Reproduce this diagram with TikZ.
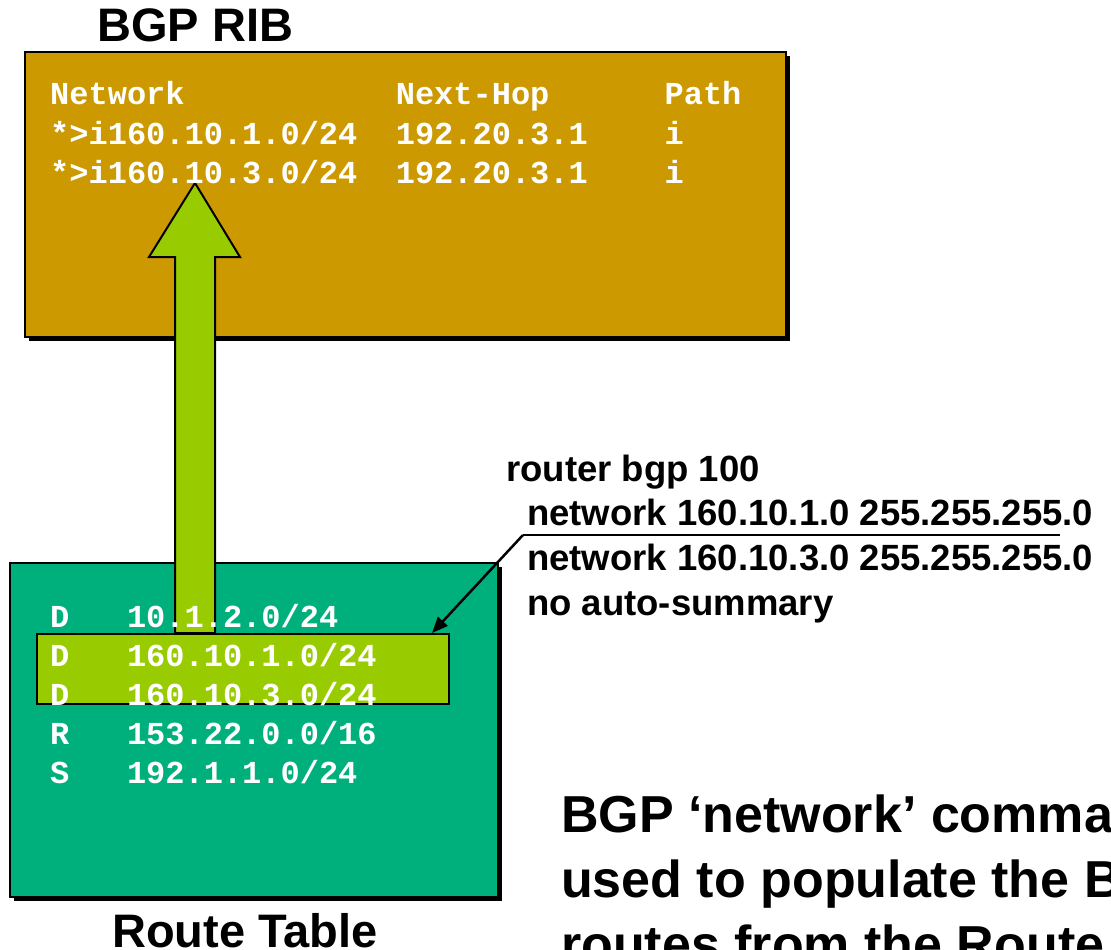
\documentclass[tikz,border=0pt]{standalone}
\usepackage{fontspec}
\setmainfont{Liberation Sans}
\newfontfamily\monofont{Liberation Mono}
\usepackage{tikz}
\definecolor{ribgold}{RGB}{204, 153, 0}
\definecolor{tablegreen}{RGB}{0, 176, 124}
\definecolor{lime}{RGB}{153, 204, 0}
\usetikzlibrary{positioning}
\usetikzlibrary{shadows}
\usetikzlibrary{arrows.meta}
\tikzset{
  panel/.style={rectangle, anchor=north west, line width=2pt, draw=black,
    drop shadow={shadow xshift=4pt, shadow yshift=-4pt, fill=black, opacity=1}},
  rowtext/.style={anchor=base west, inner sep=0pt, text=white, font=\monofont\bfseries\fontsize{32}{38}\selectfont},
  cfgtext/.style={anchor=base west, inner sep=0pt, font=\bfseries\fontsize{36.5}{44}\selectfont},
  headtext/.style={anchor=base west, inner sep=0pt, font=\bfseries\fontsize{47}{56}\selectfont},
  notetext/.style={anchor=base west, inner sep=0pt, font=\bfseries\fontsize{52}{62}\selectfont}
}

\begin{document}
\begin{tikzpicture}[x=1pt, y=-1pt]
\useasboundingbox (0,0) rectangle (1111,950);
\clip (0,0) rectangle (1111,950);
% BGP table
\node (ribhead) [headtext] at (97,42) {BGP RIB};
\node (rib) [panel, fill=ribgold, minimum width=761pt, minimum height=285pt] at (24,51) {};
% route table
\node (rt) [panel, fill=tablegreen, minimum width=488pt, minimum height=334pt] at (9,562) {};
\node (hl) [rectangle, anchor=north west, line width=2pt, draw=black, fill=lime, minimum width=412pt, minimum height=70pt] at (36,633) {};
\node (rthead) [headtext] at (112,947) {Route Table};
% big arrow
\coordinate (tail) at (195,633);
\coordinate (tip) at (195,183);
\draw [line width=2pt, fill=lime, line join=miter] (tail) ++(-20,0) -- (175,257) -- (149,257) -- (tip) -- (240,257) -- (215,257) -- ++(0,376) -- cycle;
% rows of the BGP table
\node (h1) [rowtext] at (50,104) {Network};
\node (h2) [rowtext] at (395.6,104) {Next-Hop};
\node (h3) [rowtext] at (664.4,104) {Path};
\node (n1) [rowtext] at (50,144) {*>i160.10.1.0/24};
\node (n2) [rowtext] at (395.6,144) {192.20.3.1};
\node (n3) [rowtext] at (664.4,144) {i};
\node (m1) [rowtext] at (50,183) {*>i160.10.3.0/24};
\node (m2) [rowtext] at (395.6,183) {192.20.3.1};
\node (m3) [rowtext] at (664.4,183) {i};
% rows of the route table
\node (r1a) [rowtext] at (50,627) {D};
\node (r1b) [rowtext] at (126.8,627) {10.1.2.0/24};
\node (r2a) [rowtext] at (50,666) {D};
\node (r2b) [rowtext] at (126.8,666) {160.10.1.0/24};
\node (r3a) [rowtext] at (50,705) {D};
\node (r3b) [rowtext] at (126.8,705) {160.10.3.0/24};
\node (r4a) [rowtext] at (50,744) {R};
\node (r4b) [rowtext] at (126.8,744) {153.22.0.0/16};
\node (r5a) [rowtext] at (50,783) {S};
\node (r5b) [rowtext] at (126.8,783) {192.1.1.0/24};
% config
\node (c1) [cfgtext] at (506,481) {router bgp 100};
\node (c2) [cfgtext] at (527,525) {network 160.10.1.0 255.255.255.0};
\node (c3) [cfgtext] at (527,570) {network 160.10.3.0 255.255.255.0};
\node (c4) [cfgtext] at (527,615) {no auto-summary};
\coordinate (ul) at (523,535);
\coordinate (ulend) at (1060,535);
\coordinate (hit) at (432,633);
\draw [line width=2pt] (ul) -- (ulend);
\draw [line width=2.5pt, -{Triangle[length=16pt, width=13pt]}] (ul) -- (hit);
% note
\node (note1) [notetext] at (561,832) {BGP ‘network’ command};
\node (note2) [notetext] at (561,897) {used to populate the BGP};
\node (note3) [notetext] at (561,962) {routes from the Route};
\end{tikzpicture}
\end{document}
